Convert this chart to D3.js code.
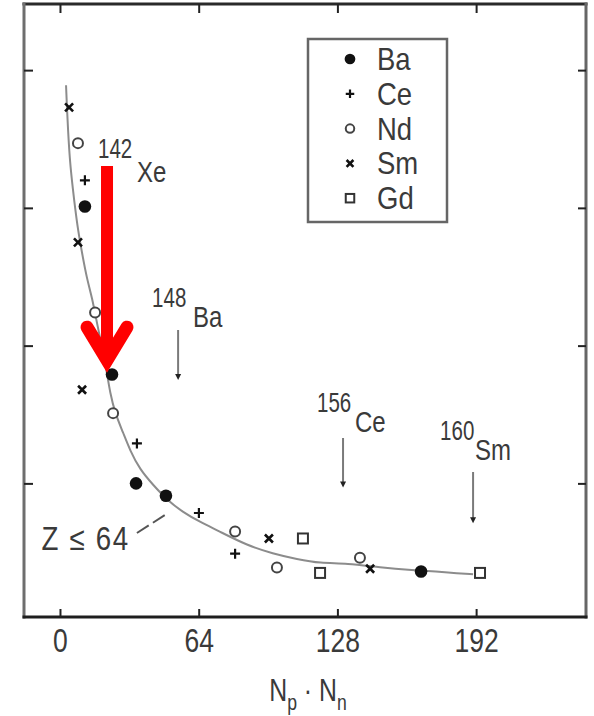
<!DOCTYPE html>
<html>
<head>
<meta charset="utf-8">
<script src="https://cdn.jsdelivr.net/npm/d3@7/dist/d3.min.js"></script>
<style>
  body { margin: 0; background: #fff; }
  svg { display: block; }
  text { font-family: "Liberation Sans", Arial, sans-serif; fill: #3a3a3a; }
</style>
</head>
<body>
<div id="chart"></div>
<script>
// x = Np*Nn, y = (unlabelled axis, arbitrary units)
const baX = [11.5, 24.0, 35.1, 48.9, 166.6];
const baY = [3.01, 1.79, 1.00, 0.91, 0.36];
const ceX = [11.5, 35.5, 64.1, 80.8];
const ceY = [3.20, 1.29, 0.785, 0.49];
const ndX = [8.3, 16.2, 24.5, 80.8, 100.1, 138.4];
const ndY = [3.47, 2.24, 1.51, 0.65, 0.39, 0.46];
const smX = [4.2, 8.3, 10.2, 96.4, 143.1];
const smY = [3.73, 2.75, 1.68, 0.60, 0.38];
const gdX = [112.1, 120.0, 193.8];
const gdY = [0.60, 0.35, 0.35];

// hand drawn trend curve
const curveX = [2.8, 3.2, 3.7, 4.6, 6.0, 6.9, 8.3, 10.2, 12.5, 14.8, 17.1, 19.4, 21.7, 23.1, 25.4, 29.1,
  32.3, 36.9, 42.9, 49.4, 56.8, 64.6, 72.5, 86.3, 98.3, 109.4, 120.0, 132.4, 147.7, 162.9, 174.0, 181.4, 190.6];
const curveY = [3.89, 3.73, 3.57, 3.33, 3.13, 3.01, 2.84, 2.67, 2.48, 2.35, 2.16, 1.99, 1.80, 1.66, 1.51, 1.37,
  1.24, 1.10, 0.99, 0.88, 0.79, 0.72, 0.66, 0.55, 0.49, 0.45, 0.42, 0.42, 0.39, 0.37, 0.36, 0.35, 0.34];

const elements = ['Ba', 'Ce', 'Nd', 'Sm', 'Gd'];

// predicted isotopes marked with arrows
const isoMass = ['142', '148', '156', '160'];
const isoSym = ['Xe', 'Ba', 'Ce', 'Sm'];
const isoX = [21.7, 54.5, 130.6, 190.6];
const isoTipY = [1.80, 1.75, 0.97, 0.71];

const xTicks = [0, 64, 128, 192];
const xTickLabels = ['0', '64', '128', '192'];
const yTicks = [1, 2, 3, 4];

const zLabel = 'Z ≤ 64';
const zLeader = [[35.5, 0.64], [49.4, 0.78]];

const width = 594, height = 716;
const frame = { left: 24, right: 586, top: 4, bottom: 617 };
const squeeze = 0.82; // the scan's lettering is tall and narrow

const x = d3.scaleLinear().domain([-16.6, 242.7]).range([frame.left, frame.right]);
const y = d3.scaleLinear().domain([0.03, 4.48]).range([frame.bottom, frame.top]);

const svg = d3.select('#chart').append('svg')
  .attr('width', width)
  .attr('height', height);

// narrow text: a group at (tx, ty), squeezed horizontally
function label(parent, tx, ty, str, size, anchor, sx) {
  const t = parent.append('g')
    .attr('transform', `translate(${tx},${ty}) scale(${sx || squeeze},1)`)
    .append('text')
    .attr('font-size', size)
    .attr('text-anchor', anchor || 'start');
  if (str !== null) t.text(str);
  return t;
}

// frame
const edges = [
  [frame.left, frame.top, frame.right, frame.top, '#2a2a2a'],
  [frame.left, frame.top, frame.left, frame.bottom, '#6e6e6e'],
  [frame.right, frame.top, frame.right, frame.bottom, '#666'],
  [frame.left, frame.bottom, frame.right, frame.bottom, '#1e1e1e']
];
svg.append('g').selectAll('line').data(edges).join('line')
  .attr('x1', d => d[0]).attr('y1', d => d[1])
  .attr('x2', d => d[2]).attr('y2', d => d[3])
  .attr('stroke', d => d[4])
  .attr('stroke-width', 3)
  .attr('stroke-linecap', 'square');

// inward ticks on all four sides
function styleAxis(g) {
  g.select('.domain').remove();
  g.selectAll('.tick line').attr('stroke', '#222').attr('stroke-width', 2);
}
svg.append('g')
  .attr('transform', `translate(0,${frame.bottom})`)
  .call(d3.axisBottom(x).tickValues(xTicks).tickSize(-8).tickPadding(12).tickFormat((d, i) => xTickLabels[i]))
  .call(styleAxis)
  .call(g => g.selectAll('.tick text')
    .attr('font-size', 33)
    .attr('font-family', null)
    .attr('fill', '#3a3a3a')
    .attr('transform', `scale(${squeeze * 0.98},1)`));
svg.append('g')
  .attr('transform', `translate(0,${frame.top})`)
  .call(d3.axisTop(x).tickValues(xTicks).tickSize(-9).tickFormat(''))
  .call(styleAxis);
svg.append('g')
  .attr('transform', `translate(${frame.left},0)`)
  .call(d3.axisLeft(y).tickValues(yTicks).tickSize(-9).tickFormat(''))
  .call(styleAxis);
svg.append('g')
  .attr('transform', `translate(${frame.right},0)`)
  .call(d3.axisRight(y).tickValues(yTicks).tickSize(-8).tickFormat(''))
  .call(styleAxis);

// axis title N_p · N_n
const xTitle = label(svg, 308, 701, null, 31, 'middle', 0.8);
xTitle.append('tspan').text('N');
xTitle.append('tspan').attr('font-size', 22).attr('dy', 9).text('p');
xTitle.append('tspan').attr('dy', -9).text(' · ');
xTitle.append('tspan').text('N');
xTitle.append('tspan').attr('font-size', 22).attr('dy', 9).text('n');

// trend curve
svg.append('path')
  .datum(curveX.map((v, i) => [v, curveY[i]]))
  .attr('fill', 'none')
  .attr('stroke', '#8c8c8c')
  .attr('stroke-width', 2)
  .attr('d', d3.line().x(d => x(d[0])).y(d => y(d[1])).curve(d3.curveBasis));

// markers
const markerKind = { Ba: 'dot', Ce: 'plus', Nd: 'ring', Sm: 'cross', Gd: 'square' };
function drawMarker(g, kind, s) {
  if (kind === 'dot') {
    g.append('circle').attr('r', 6.3 * s).attr('fill', '#111');
  } else if (kind === 'plus') {
    g.append('path').attr('d', `M${-5 * s},0H${5 * s}M0,${-5 * s}V${5 * s}`)
      .attr('stroke', '#111').attr('stroke-width', 2.2);
  } else if (kind === 'ring') {
    g.append('circle').attr('r', 5 * s).attr('fill', '#fff')
      .attr('stroke', '#444').attr('stroke-width', 2);
  } else if (kind === 'cross') {
    g.append('path').attr('d', `M${-4 * s},${-4 * s}L${4 * s},${4 * s}M${-4 * s},${4 * s}L${4 * s},${-4 * s}`)
      .attr('stroke', '#111').attr('stroke-width', 2.6);
  } else {
    g.append('rect').attr('x', -5 * s).attr('y', -5 * s).attr('width', 10 * s).attr('height', 10 * s)
      .attr('fill', '#fff').attr('stroke', '#333').attr('stroke-width', 2);
  }
}

const series = [
  ['Ba', baX, baY], ['Ce', ceX, ceY], ['Nd', ndX, ndY], ['Sm', smX, smY], ['Gd', gdX, gdY]
];
const pts = svg.append('g');
series.forEach(([name, xs, ys]) => {
  xs.forEach((v, i) => {
    const g = pts.append('g').attr('transform', `translate(${x(v)},${y(ys[i])})`);
    drawMarker(g, markerKind[name], 1);
  });
});

// legend
const legend = svg.append('g');
legend.append('rect')
  .attr('x', 308).attr('y', 39).attr('width', 139).attr('height', 183)
  .attr('fill', 'none').attr('stroke', '#666').attr('stroke-width', 2.5);
elements.forEach((name, i) => {
  const row = legend.append('g').attr('transform', `translate(350,${59 + i * 34.8})`);
  drawMarker(row, markerKind[name], 0.85);
  label(row, 27, 11, name, 32, 'start', 0.86);
});

// isotope arrows and labels
const arrowTop = [166, 330, 438, 472];
const labelPos = [
  { mx: -9, my: 158, sx: 30, sy: 182 },
  { mx: -26, my: 307, sx: 15, sy: 327 },
  { mx: -26, my: 412, sx: 12, sy: 432 },
  { mx: -33, my: 440, sx: 2, sy: 460 }
];
const ann = svg.append('g');
isoX.forEach((v, i) => {
  const ax = x(v), tip = y(isoTipY[i]);
  if (i > 0) {
    ann.append('line')
      .attr('x1', ax).attr('x2', ax)
      .attr('y1', arrowTop[i]).attr('y2', tip - 4)
      .attr('stroke', '#7a7a7a').attr('stroke-width', 2);
    ann.append('path')
      .attr('d', `M${ax - 3},${tip - 6}L${ax + 3},${tip - 6}L${ax},${tip}Z`)
      .attr('fill', '#222');
  }
  label(ann, ax + labelPos[i].mx, labelPos[i].my, isoMass[i], 27, 'start', 0.76);
  label(ann, ax + labelPos[i].sx, labelPos[i].sy, isoSym[i], 30, 'start', 0.8);
});

// red highlight arrow on 142Xe
const rx = x(isoX[0]), rtip = y(isoTipY[0]);
svg.append('rect')
  .attr('x', rx - 6).attr('y', arrowTop[0])
  .attr('width', 12).attr('height', rtip - arrowTop[0] - 16)
  .attr('fill', '#ff0000');
svg.append('path')
  .attr('d', `M${rx - 20},${rtip - 46}L${rx},${rtip - 13}L${rx + 20},${rtip - 46}`)
  .attr('fill', 'none')
  .attr('stroke', '#ff0000')
  .attr('stroke-width', 13)
  .attr('stroke-linecap', 'round')
  .attr('stroke-linejoin', 'miter');

// Z <= 64 note with dashed leader
svg.append('line')
  .attr('x1', x(zLeader[0][0])).attr('y1', y(zLeader[0][1]))
  .attr('x2', x(zLeader[1][0])).attr('y2', y(zLeader[1][1]))
  .attr('stroke', '#555').attr('stroke-width', 2)
  .attr('stroke-dasharray', '14,5');
label(svg, x(zLeader[0][0]) - 7, y(zLeader[0][1]) + 17, zLabel, 33, 'end', 0.84)
  .attr('letter-spacing', 2);
</script>
</body>
</html>
